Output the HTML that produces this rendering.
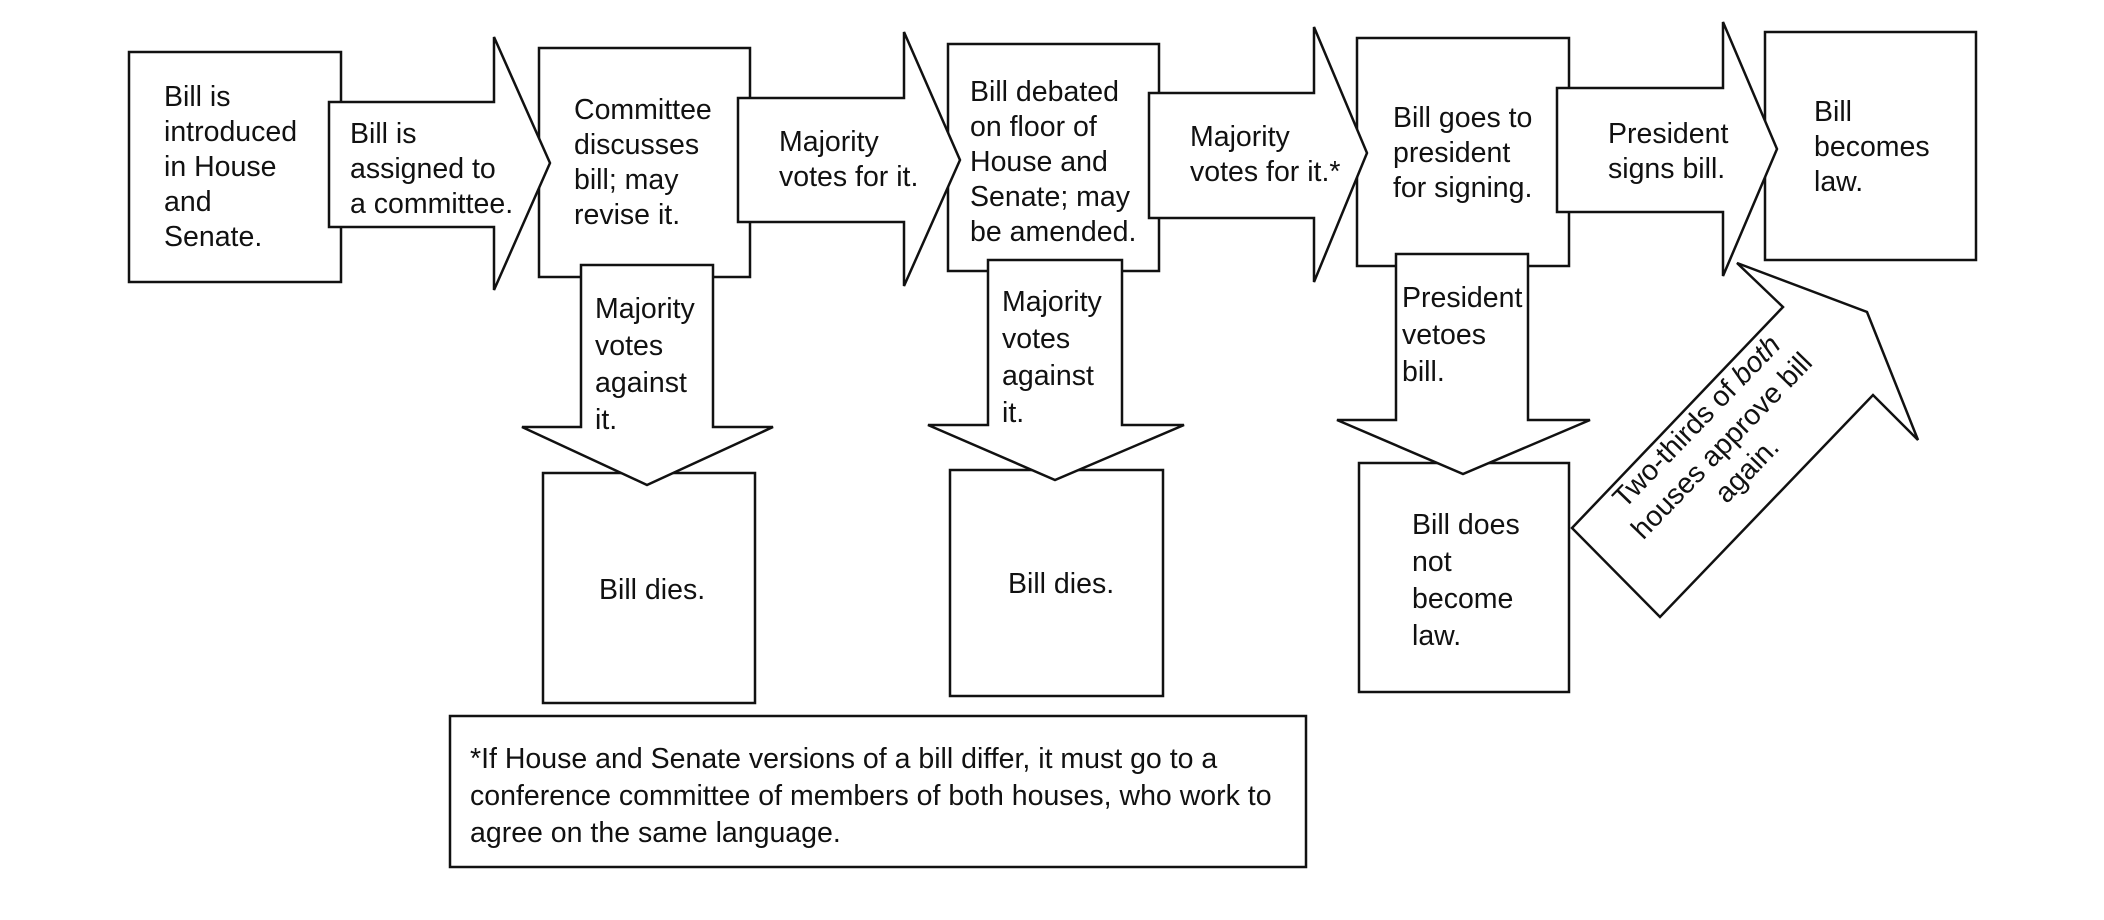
<!DOCTYPE html>
<html><head><meta charset="utf-8"><style>
html,body{margin:0;padding:0;background:#fff;}
svg{display:block;}
text{font-family:"Liberation Sans",sans-serif;font-size:28.5px;fill:#111;}
</style></head><body>
<svg width="2104" height="920" viewBox="0 0 2104 920" xmlns="http://www.w3.org/2000/svg">
<g fill="#fff" stroke="#111" stroke-width="2.5" stroke-linejoin="miter">
<rect x="129" y="52" width="212" height="230"/>
<rect x="539" y="48" width="211" height="229"/>
<rect x="948" y="44" width="211" height="227"/>
<rect x="1357" y="38" width="212" height="228"/>
<rect x="1765" y="32" width="211" height="228"/>
<rect x="543" y="473" width="212" height="230"/>
<rect x="950" y="470" width="213" height="226"/>
<rect x="1359" y="463" width="210" height="229"/>
<rect x="450" y="716" width="856" height="151"/>
<polygon points="329,102 494,102 494,37 550,163 494,290 494,227 329,227"/>
<polygon points="738,98 904,98 904,32 960,160 904,286 904,222 738,222"/>
<polygon points="1149,93 1314,93 1314,27 1367,153 1314,282 1314,218 1149,218"/>
<polygon points="1557,88 1723,88 1723,22 1777,149 1723,276 1723,212 1557,212"/>
<polygon points="581,265 713,265 713,427 773,427 647,485 522,427 581,427"/>
<polygon points="988,260 1122,260 1122,425 1184,425 1055,480 928,425 988,425"/>
<polygon points="1396,254 1528,254 1528,420 1590,420 1463,474 1337,420 1396,420"/>
<polygon points="1737,263 1867,312 1918,440 1873,395 1660,617 1572,528 1783,307"/>
</g>
<g>
<text x="164" y="106"><tspan x="164">Bill is</tspan><tspan x="164" dy="35">introduced</tspan><tspan x="164" dy="35">in House</tspan><tspan x="164" dy="35">and</tspan><tspan x="164" dy="35">Senate.</tspan></text>
<text x="350" y="143"><tspan x="350">Bill is</tspan><tspan x="350" dy="35">assigned to</tspan><tspan x="350" dy="35">a committee.</tspan></text>
<text x="574" y="119"><tspan x="574">Committee</tspan><tspan x="574" dy="35">discusses</tspan><tspan x="574" dy="35">bill; may</tspan><tspan x="574" dy="35">revise it.</tspan></text>
<text x="779" y="151"><tspan x="779">Majority</tspan><tspan x="779" dy="35">votes for it.</tspan></text>
<text x="970" y="101"><tspan x="970">Bill debated</tspan><tspan x="970" dy="35">on floor of</tspan><tspan x="970" dy="35">House and</tspan><tspan x="970" dy="35">Senate; may</tspan><tspan x="970" dy="35">be amended.</tspan></text>
<text x="1190" y="146"><tspan x="1190">Majority</tspan><tspan x="1190" dy="35">votes for it.*</tspan></text>
<text x="1393" y="127"><tspan x="1393">Bill goes to</tspan><tspan x="1393" dy="35">president</tspan><tspan x="1393" dy="35">for signing.</tspan></text>
<text x="1608" y="143"><tspan x="1608">President</tspan><tspan x="1608" dy="35">signs bill.</tspan></text>
<text x="1814" y="121"><tspan x="1814">Bill</tspan><tspan x="1814" dy="35">becomes</tspan><tspan x="1814" dy="35">law.</tspan></text>
<text x="595" y="318"><tspan x="595">Majority</tspan><tspan x="595" dy="37">votes</tspan><tspan x="595" dy="37">against</tspan><tspan x="595" dy="37">it.</tspan></text>
<text x="1002" y="311"><tspan x="1002">Majority</tspan><tspan x="1002" dy="37">votes</tspan><tspan x="1002" dy="37">against</tspan><tspan x="1002" dy="37">it.</tspan></text>
<text x="1402" y="307"><tspan x="1402">President</tspan><tspan x="1402" dy="37">vetoes</tspan><tspan x="1402" dy="37">bill.</tspan></text>
<text x="599" y="599">Bill dies.</text>
<text x="1008" y="593">Bill dies.</text>
<text x="1412" y="534"><tspan x="1412">Bill does</tspan><tspan x="1412" dy="37">not</tspan><tspan x="1412" dy="37">become</tspan><tspan x="1412" dy="37">law.</tspan></text>
<text x="470" y="768" font-size="27.5"><tspan x="470">*If House and Senate versions of a bill differ, it must go to a</tspan><tspan x="470" dy="37">conference committee of members of both houses, who work to</tspan><tspan x="470" dy="37">agree on the same language.</tspan></text>
<g transform="translate(1722,446) rotate(-46)">
<text text-anchor="middle" y="-26" font-size="27"><tspan x="0">Two-thirds of <tspan font-style="italic">both</tspan></tspan><tspan x="0" dy="35">houses approve bill</tspan><tspan x="0" dy="35">again.</tspan></text>
</g>
</g>
</svg>
</body></html>
